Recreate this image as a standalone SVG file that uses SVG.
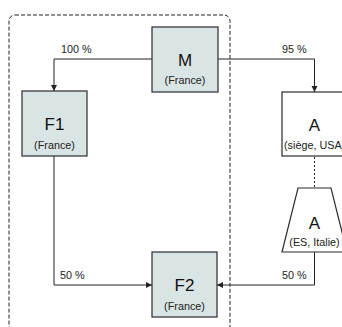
<svg xmlns="http://www.w3.org/2000/svg" width="342" height="327" viewBox="0 0 342 327">
<style>
.box{fill:#d9e4e4;stroke:#2b2b2b;stroke-width:1.2}
.wbox{fill:#ffffff;stroke:#2b2b2b;stroke-width:1.2}
.big{font-family:"Liberation Sans",Arial,sans-serif;font-size:17px;fill:#111;text-anchor:middle}
.small{font-family:"Liberation Sans",Arial,sans-serif;font-size:10.8px;fill:#222;text-anchor:middle}
.lbl{font-family:"Liberation Sans",Arial,sans-serif;font-size:10.8px;fill:#222}
.conn{fill:none;stroke:#222;stroke-width:1}
</style>
<defs>
<marker id="arr" markerWidth="8" markerHeight="8" refX="6" refY="3" orient="auto" markerUnits="userSpaceOnUse">
<path d="M0,0 L6,3 L0,6 z" fill="#222"/>
</marker>
</defs>
<rect x="9" y="15" width="221" height="340" rx="6" fill="none" stroke="#222" stroke-width="1" stroke-dasharray="4,2"/>
<g id="connectors">
<path class="conn" d="M152,59 H54 V91" marker-end="url(#arr)"/>
<path class="conn" d="M218,59 H314.5 V92" marker-end="url(#arr)"/>
<path class="conn" d="M54,156 V285 H152" marker-end="url(#arr)"/>
<path class="conn" d="M314.5,252 V285 H217" marker-end="url(#arr)"/>
<path class="conn" d="M314.5,157 V188" stroke-dasharray="2,2"/>
<text class="lbl" x="61" y="53">100 %</text>
<text class="lbl" x="282" y="53">95 %</text>
<text class="lbl" x="60" y="279">50 %</text>
<text class="lbl" x="282" y="279">50 %</text>
</g>
<g id="M">
<rect class="box" x="152" y="27" width="66" height="65"/>
<text class="big" x="185" y="66">M</text>
<text class="small" x="185" y="84">(France)</text>
</g>
<g id="F1">
<rect class="box" x="22" y="91" width="65" height="65"/>
<text class="big" x="54.5" y="130">F1</text>
<text class="small" x="54.5" y="149">(France)</text>
</g>
<g id="A1">
<rect class="wbox" x="282" y="92" width="65" height="64"/>
<text class="big" x="314.5" y="131">A</text>
<text class="small" x="314.6" y="149">(siège, USA)</text>
</g>
<g id="A2">
<polygon class="wbox" points="298,188 331,188 347,252 282,252"/>
<text class="big" x="314.5" y="229">A</text>
<text class="small" x="314.5" y="246">(ES, Italie)</text>
</g>
<g id="F2">
<rect class="box" x="152" y="252" width="65" height="65"/>
<text class="big" x="184.5" y="291">F2</text>
<text class="small" x="184.5" y="310">(France)</text>
</g>
</svg>
